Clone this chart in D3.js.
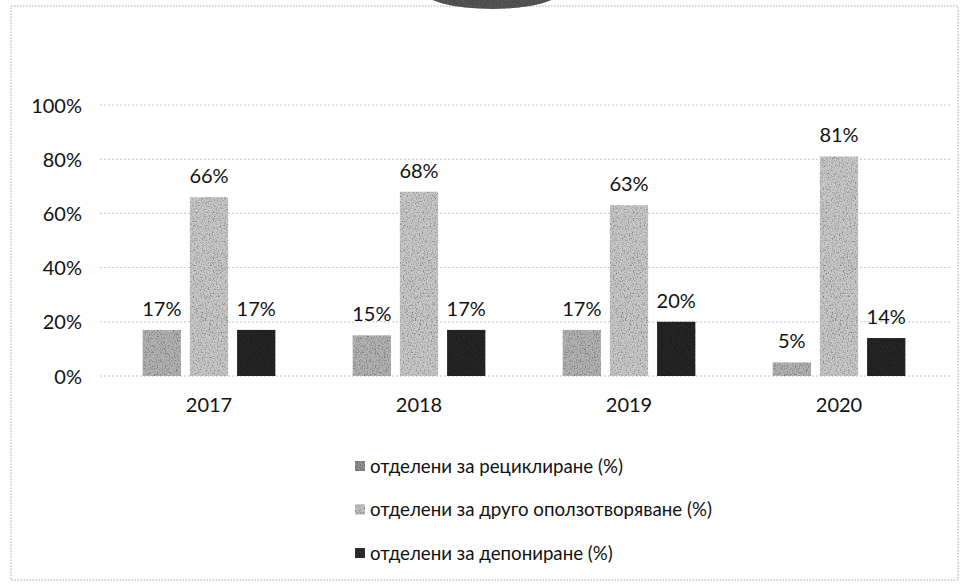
<!DOCTYPE html>
<html>
<head>
<meta charset="utf-8">
<script src="https://cdn.jsdelivr.net/npm/d3@7/dist/d3.min.js"></script>
<style>
  html, body { margin: 0; padding: 0; background: #fff; }
  svg { display: block; }
  text { font-family: "Lato", "Open Sans", sans-serif; fill: #111; }
</style>
</head>
<body>
<svg id="chart" width="962" height="586"></svg>
<script>
// Years on the category axis
const years = ["2017", "2018", "2019", "2020"];
// Series names (legend)
const seriesNames = [
  "отделени за рециклиране (%)",
  "отделени за друго оползотворяване (%)",
  "отделени за депониране (%)"
];
// Percent values per series, one per year
const recycling = [17, 15, 17, 5];
const otherRecovery = [66, 68, 63, 81];
const landfill = [17, 17, 20, 14];
// Value-axis ticks
const yTicks = [0, 20, 40, 60, 80, 100];

const seriesValues = [recycling, otherRecovery, landfill];
const fills = ["#b3b3b3", "#c9c9c9", "#262626"];
const legendFills = ["#8e8e8e", "#c2c2c2", "#2e2e2e"];

const svg = d3.select("#chart");

// Grainy print texture
const defs = svg.append("defs");
function grain(id, freq, amount) {
  const f = defs.append("filter").attr("id", id)
    .attr("x", 0).attr("y", 0).attr("width", 1).attr("height", 1);
  f.append("feTurbulence").attr("type", "fractalNoise")
    .attr("baseFrequency", freq).attr("numOctaves", 2).attr("seed", 3).attr("result", "n");
  f.append("feColorMatrix").attr("in", "n").attr("type", "matrix")
    .attr("values", `0 0 0 0 0  0 0 0 0 0  0 0 0 0 0  ${amount} 0 0 0 ${-amount * 0.45}`)
    .attr("result", "dots");
  f.append("feComposite").attr("in", "dots").attr("in2", "SourceGraphic")
    .attr("operator", "in").attr("result", "dotsIn");
  f.append("feMerge").selectAll("feMergeNode")
    .data(["SourceGraphic", "dotsIn"]).join("feMergeNode").attr("in", d => d);
}
grain("grainLight", 0.75, 1.8);
grain("grainDark", 0.9, 1.2);

// Outer dotted frame
svg.append("rect")
  .attr("x", 11).attr("y", 6).attr("width", 947).attr("height", 574)
  .attr("fill", "none").attr("stroke", "#a8a8a8").attr("stroke-width", 1)
  .attr("stroke-dasharray", "1.5,1.5");

// Dark emblem cut off at the top edge
svg.append("ellipse")
  .attr("cx", 492).attr("cy", -10).attr("rx", 70).attr("ry", 19)
  .attr("fill", "#555").attr("filter", "url(#grainDark)");

// Scales
const y = d3.scaleLinear().domain([0, 100]).range([376, 105]);
const x0 = d3.scaleBand().domain(years).range([104, 944]);
const x1 = d3.scaleBand().domain(d3.range(seriesNames.length))
  .range([0, x0.bandwidth()]).paddingInner(0.19).paddingOuter(0.82);

// Gridlines
svg.append("g").selectAll("line").data(yTicks).join("line")
  .attr("x1", 100).attr("x2", 950)
  .attr("y1", d => y(d)).attr("y2", d => y(d))
  .attr("stroke", "#c4c4c4").attr("stroke-width", 1)
  .attr("stroke-dasharray", "2,2");

// Value axis labels
const yAxis = d3.axisLeft(y).tickValues(yTicks).tickFormat(d => d + "%").tickSize(0).tickPadding(0);
const yg = svg.append("g").attr("transform", "translate(82,0)").call(yAxis);
yg.select(".domain").remove();
yg.selectAll("text").attr("font-size", 20).attr("dy", "0.35em")
  .style("font-family", "Lato, 'Open Sans', sans-serif").attr("fill", "#111");

// Category axis labels
const xAxis = d3.axisBottom(x0).tickSize(0).tickPadding(0);
const xg = svg.append("g").attr("transform", "translate(0,398)").call(xAxis);
xg.select(".domain").remove();
xg.selectAll("text").attr("font-size", 20).attr("dy", "0.71em")
  .style("font-family", "Lato, 'Open Sans', sans-serif").attr("fill", "#111");

// Bars and value labels
const groups = svg.append("g").selectAll("g").data(years).join("g")
  .attr("transform", d => `translate(${x0(d)},0)`);

groups.each(function (yr, yi) {
  const g = d3.select(this);
  seriesValues.forEach((vals, si) => {
    const v = vals[yi];
    g.append("rect")
      .attr("x", x1(si)).attr("width", x1.bandwidth())
      .attr("y", y(v)).attr("height", y(0) - y(v))
      .attr("fill", fills[si])
      .attr("filter", si === 2 ? "url(#grainDark)" : "url(#grainLight)");
    g.append("text")
      .attr("x", x1(si) + x1.bandwidth() / 2)
      .attr("y", y(v) - 14)
      .attr("text-anchor", "middle")
      .attr("font-size", 20)
      .text(v + "%");
  });
});

// Legend
const legend = svg.append("g").selectAll("g").data(seriesNames).join("g")
  .attr("transform", (d, i) => `translate(355,${466 + i * 43.5})`);
legend.append("rect")
  .attr("x", 0).attr("y", -5).attr("width", 10).attr("height", 10)
  .attr("fill", (d, i) => legendFills[i])
  .attr("filter", (d, i) => i === 2 ? "url(#grainDark)" : "url(#grainLight)");
legend.append("text")
  .attr("x", 15).attr("dy", "0.35em")
  .attr("font-size", 18.7)
  .text(d => d);
</script>
</body>
</html>
